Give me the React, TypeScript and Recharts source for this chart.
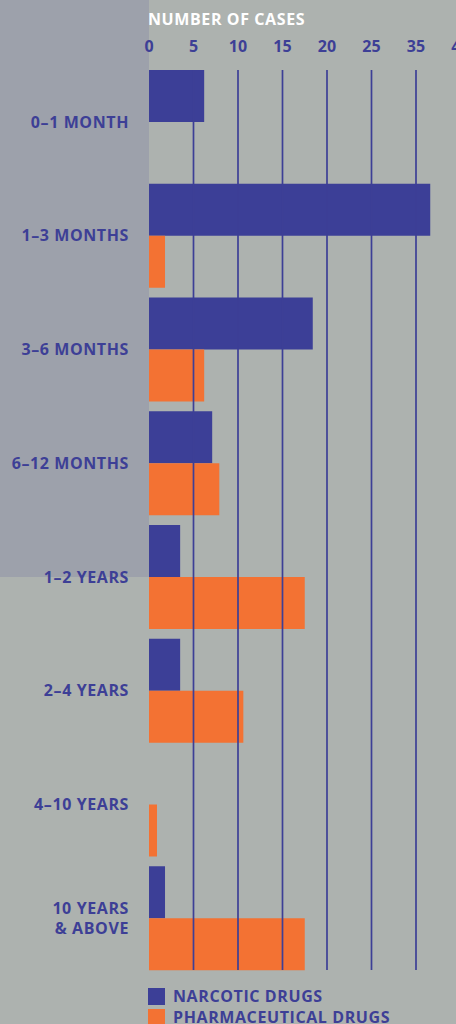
import React from "react";
import { BarChart, Bar, XAxis, YAxis, ReferenceLine } from "recharts";

const categories = [
  "0–1 MONTH",
  "1–3 MONTHS",
  "3–6 MONTHS",
  "6–12 MONTHS",
  "1–2 YEARS",
  "2–4 YEARS",
  "4–10 YEARS",
  "10 YEARS & ABOVE",
];
const narcoticCases = [6.2, 31.6, 18.4, 7.1, 3.5, 3.5, 0, 1.8];
const pharmaCases = [0, 1.8, 6.2, 7.9, 17.5, 10.6, 0.9, 17.5];

// the printed axis skips "30", so labels run one step ahead of the grid
const tickValues = [0, 5, 10, 15, 20, 25, 30, 35, 40];
const tickLabels = ["0", "5", "10", "15", "20", "25", "35", "40", ""];
const gridValues = [5, 10, 15, 20, 25, 30, 35];

const seriesNames = ["NARCOTIC DRUGS", "PHARMACEUTICAL DRUGS"];
const seriesColors = ["#3c3f97", "#f37233"];

const BLUE = "#3d3f96";
const FONT = "'Open Sans', sans-serif";

const data = categories.map((name, i) => ({
  name,
  narcotic: narcoticCases[i],
  pharma: pharmaCases[i],
}));

function CategoryTick({ x, y, payload }: any) {
  const label: string = payload.value;
  const lines = label.includes(" & ")
    ? [label.slice(0, label.indexOf(" & ")), label.slice(label.indexOf(" & ") + 1)]
    : [label];
  return (
    <text
      x={x}
      y={y}
      textAnchor="end"
      fill={BLUE}
      fontFamily={FONT}
      fontWeight={700}
      fontSize={16}
      letterSpacing={0.6}
    >
      {lines.map((l, i) => (
        <tspan key={i} x={x} dy={i === 0 ? 5.8 - (lines.length - 1) * 10 : 20}>
          {l}
        </tspan>
      ))}
    </text>
  );
}

function GridLine(props: any) {
  // grid stops at the outer bar edges, not at the band padding
  return (
    <line
      x1={props.x1}
      x2={props.x2}
      y1={props.y1 + 5}
      y2={props.y2 - 5}
      stroke={BLUE}
      strokeWidth={1.7}
    />
  );
}

export default function App() {
  return (
    <div
      style={{
        position: "absolute",
        left: 0,
        top: 0,
        width: 456,
        height: 1024,
        overflow: "hidden",
        background: "#adb2af",
        fontFamily: FONT,
      }}
    >
      <div
        style={{
          position: "absolute",
          left: 0,
          top: 0,
          width: 149,
          height: 577,
          background: "#9da1ab",
        }}
      />
      <div
        style={{
          position: "absolute",
          left: 148,
          top: 9,
          color: "#ffffff",
          fontSize: 16,
          fontWeight: 700,
          letterSpacing: 0.6,
          lineHeight: "20px",
        }}
      >
        NUMBER OF CASES
      </div>
      <div style={{ position: "absolute", left: 0, top: 0 }}>
        <BarChart
          width={456}
          height={1024}
          data={data}
          layout="vertical"
          margin={{ top: 35, right: -49, bottom: 49, left: 0 }}
          barCategoryGap={5}
          barGap={0}
        >
          <XAxis
            type="number"
            orientation="top"
            domain={[0, 40]}
            ticks={tickValues}
            interval={0}
            height={30}
            axisLine={false}
            tickLine={false}
            tickSize={0}
            tickMargin={13}
            tickFormatter={(v: number) => tickLabels[tickValues.indexOf(v)]}
            tick={{ fill: BLUE, fontSize: 16, fontWeight: 700, fontFamily: FONT }}
          />
          <YAxis
            type="category"
            dataKey="name"
            width={149}
            axisLine={false}
            tickLine={false}
            tickSize={0}
            tickMargin={20}
            interval={0}
            tick={<CategoryTick />}
          />
          {gridValues.map((v) => (
            <ReferenceLine key={v} x={v} shape={<GridLine />} />
          ))}
          <Bar dataKey="narcotic" name={seriesNames[0]} fill={seriesColors[0]} isAnimationActive={false} />
          <Bar dataKey="pharma" name={seriesNames[1]} fill={seriesColors[1]} isAnimationActive={false} />
        </BarChart>
      </div>
      <div style={{ position: "absolute", left: 148, top: 986 }}>
        {seriesNames.map((n, i) => (
          <div key={n} style={{ display: "flex", alignItems: "center", height: 21 }}>
            <div style={{ width: 17, height: 17, background: seriesColors[i], marginRight: 8 }} />
            <span
              style={{
                color: BLUE,
                fontSize: 16,
                fontWeight: 700,
                letterSpacing: 0.6,
                lineHeight: "17px",
              }}
            >
              {n}
            </span>
          </div>
        ))}
      </div>
    </div>
  );
}
